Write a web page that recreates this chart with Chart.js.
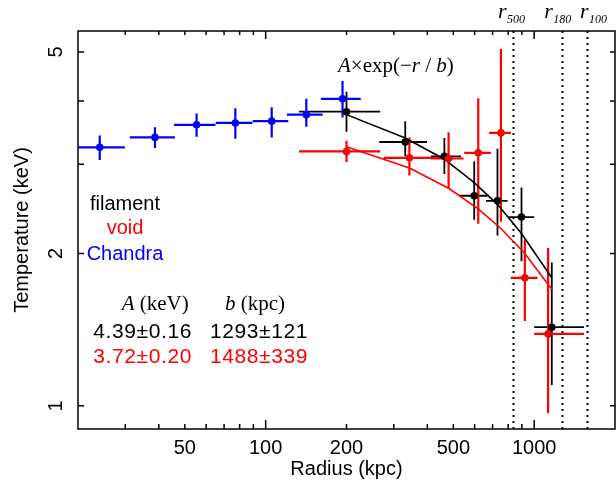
<!DOCTYPE html>
<html><head><meta charset="utf-8">
<script src="https://cdn.jsdelivr.net/npm/chart.js@4.4.1/dist/chart.umd.min.js"></script>
<style>html,body{margin:0;padding:0;background:#fff}canvas{display:block}</style>
</head><body>
<canvas id="c" width="616" height="483"></canvas>
<script>
// ---- data ----
const chandraR   = [24.1, 38.7, 55.3, 77.1, 105.3, 141.7, 193.3];
const chandraRLo = [20, 31.2, 45.6, 65.2, 89.5, 120, 160.6];
const chandraRHi = [29.9, 45.9, 65.0, 89.2, 121.4, 162.9, 226];
const chandraT   = [3.24, 3.39, 3.59, 3.62, 3.65, 3.76, 4.04];
const chandraTLo = [3.06, 3.23, 3.40, 3.37, 3.39, 3.56, 3.71];
const chandraTHi = [3.42, 3.55, 3.78, 3.87, 3.89, 4.04, 4.38];

const filR   = [200, 331, 463, 598, 730, 897, 1163];
const filRLo = [133, 265, 413, 526, 661, 803, 1000];
const filRHi = [267, 399, 534, 671, 796, 1000, 1534];
const filT   = [3.81, 3.32, 3.11, 2.60, 2.54, 2.36, 1.43];
const filTLo = [3.48, 3.11, 2.87, 2.33, 2.17, 1.93, 1.10];
const filTHi = [4.17, 3.65, 3.38, 3.04, 3.22, 2.70, 1.92];

const voidR   = [200, 343, 480, 619, 752, 923, 1127];
const voidRLo = [133, 275, 413, 549, 680, 819, 1000];
const voidRHi = [267, 443, 546, 690, 819, 1029, 1534];
const voidT   = [3.18, 3.09, 3.08, 3.16, 3.46, 1.79, 1.387];
const voidTLo = [3.03, 2.85, 2.69, 2.29, 2.31, 1.47, 0.967];
const voidTHi = [3.34, 3.39, 3.47, 4.05, 5.07, 2.13, 2.05];

const filFitR = [200, 331, 463, 598, 730, 897, 1163];
const filFitT = [3.76, 3.38, 3.07, 2.76, 2.50, 2.19, 1.79];
const voidFitR = [200, 343, 480, 619, 752, 923, 1163];
const voidFitT = [3.25, 2.95, 2.69, 2.45, 2.24, 2.00, 1.70];

const refR = [837, 1269, 1577];
const refNames = ['500', '180', '100'];

const xTickVals = [30,40,50,60,70,80,90,100,200,300,400,500,600,700,800,900,1000];
const xMajorVals = [100, 1000];
const xLabelVals = [50, 100, 200, 500, 1000];
const yTickVals = [1, 2, 3, 4, 5];
const yLabelVals = [1, 2, 5];

const legendNames = ['filament', 'void', 'Chandra'];
const paramA = ['4.39\u00B10.16', '3.72\u00B10.20'];
const paramB = ['1293\u00B1121', '1488\u00B1339'];

// ---- styles ----
const BLUE = '#0000ff', RED = '#ff0000', BLACK = '#000000';
const SANS = '"Liberation Sans", Arial, sans-serif';
const SERIF = '"Liberation Serif", "Times New Roman", serif';

const pts = (xs, ys) => xs.map((x, i) => ({x: x, y: ys[i]}));

const groups = [
  {r: filR, rlo: filRLo, rhi: filRHi, t: filT, tlo: filTLo, thi: filTHi, c: BLACK, w: 1.8},
  {r: voidR, rlo: voidRLo, rhi: voidRHi, t: voidT, tlo: voidTLo, thi: voidTHi, c: RED, w: 2.2},
  {r: chandraR, rlo: chandraRLo, rhi: chandraRHi, t: chandraT, tlo: chandraTLo, thi: chandraTHi, c: BLUE, w: 2.2}
];

function rich(ctx, parts, x, y) {
  for (const p of parts) {
    ctx.font = p.f;
    ctx.fillText(p.t, x, y);
    x += ctx.measureText(p.t).width;
  }
  return x;
}

const deco = {
  id: 'deco',
  beforeDatasetsDraw(chart) {
    const ctx = chart.ctx, xs = chart.scales.x, ys = chart.scales.y, a = chart.chartArea;
    ctx.save();
    ctx.beginPath(); ctx.rect(a.left, a.top, a.right - a.left, a.bottom - a.top); ctx.clip();
    // reference radii (dotted)
    ctx.strokeStyle = BLACK; ctx.lineWidth = 2; ctx.setLineDash([2, 4]);
    for (const r of refR) {
      const px = Math.round(xs.getPixelForValue(r)) + 0.5;
      ctx.beginPath(); ctx.moveTo(px, a.top); ctx.lineTo(px, a.bottom); ctx.stroke();
    }
    ctx.setLineDash([]);
    // error bars
    for (const g of groups) {
      ctx.strokeStyle = g.c; ctx.lineWidth = g.w;
      for (let i = 0; i < g.r.length; i++) {
        const px = xs.getPixelForValue(g.r[i]), py = ys.getPixelForValue(g.t[i]);
        ctx.beginPath();
        ctx.moveTo(xs.getPixelForValue(g.rlo[i]), py); ctx.lineTo(xs.getPixelForValue(g.rhi[i]), py);
        ctx.moveTo(px, ys.getPixelForValue(g.tlo[i])); ctx.lineTo(px, ys.getPixelForValue(g.thi[i]));
        ctx.stroke();
      }
    }
    ctx.restore();
  },
  afterDraw(chart) {
    const ctx = chart.ctx, xs = chart.scales.x, ys = chart.scales.y, a = chart.chartArea;
    ctx.save();
    // frame
    ctx.strokeStyle = BLACK; ctx.lineWidth = 1.5;
    ctx.strokeRect(a.left, a.top, a.right - a.left, a.bottom - a.top);
    // inward ticks
    ctx.beginPath();
    for (const v of xTickVals) {
      const px = xs.getPixelForValue(v);
      const maj = xMajorVals.includes(v);
      ctx.moveTo(px, a.bottom); ctx.lineTo(px, a.bottom - (maj ? 9 : 5));
      ctx.moveTo(px, a.top); ctx.lineTo(px, a.top + (maj ? 8 : 4));
    }
    for (const v of yTickVals) {
      const py = ys.getPixelForValue(v);
      ctx.moveTo(a.left, py); ctx.lineTo(a.left + 6, py);
      ctx.moveTo(a.right, py); ctx.lineTo(a.right - 5, py);
    }
    ctx.stroke();
    // y tick labels (parallel to axis)
    ctx.fillStyle = BLACK; ctx.font = '20px ' + SANS; ctx.textAlign = 'center'; ctx.textBaseline = 'alphabetic';
    for (const v of yLabelVals) {
      const py = ys.getPixelForValue(v);
      ctx.save(); ctx.translate(a.left - 16.5, py); ctx.rotate(-Math.PI / 2);
      ctx.fillText(String(v), 0, 0); ctx.restore();
    }
    // r labels above the frame
    ctx.textAlign = 'left';
    const rOff = [-15.5, -17.7, -7.3];
    refR.forEach((r, i) => {
      const px = xs.getPixelForValue(r);
      ctx.font = 'italic 22px ' + SERIF;
      const x0 = px + rOff[i];
      ctx.fillText('r', x0, 18);
      const w = ctx.measureText('r').width;
      ctx.font = 'italic 12px ' + SERIF;
      ctx.fillText(refNames[i], x0 + w + 0.5, 23.3);
    });
    // model label
    const it = 'italic 21px ' + SERIF, nm = '21px ' + SERIF;
    rich(ctx, [{t: 'A', f: it}, {t: '\u00D7', f: nm}, {t: 'exp(\u2212', f: nm}, {t: 'r', f: it},
               {t: ' / ', f: nm}, {t: 'b', f: it}, {t: ')', f: nm}], 338, 72);
    // legend text
    ctx.font = '20px ' + SANS; ctx.textAlign = 'center';
    const lc = [BLACK, RED, BLUE], lyy = [210, 234, 260];
    legendNames.forEach((n, i) => { ctx.fillStyle = lc[i]; ctx.fillText(n, 125, lyy[i]); });
    // parameter table
    ctx.textAlign = 'left'; ctx.fillStyle = BLACK;
    rich(ctx, [{t: 'A', f: it}, {t: ' (keV)', f: nm}], 121.7, 310);
    rich(ctx, [{t: 'b', f: it}, {t: ' (kpc)', f: nm}], 225, 310);
    ctx.font = '21px ' + SANS;
    ctx.letterSpacing = '0.6px';
    const pc = [BLACK, RED], py2 = [338, 363.3];
    paramA.forEach((s, i) => { ctx.fillStyle = pc[i]; ctx.fillText(s, 93.3, py2[i]); });
    paramB.forEach((s, i) => { ctx.fillStyle = pc[i]; ctx.fillText(s, 210, py2[i]); });
    ctx.letterSpacing = '0px';
    ctx.restore();
  }
};

new Chart(document.getElementById('c'), {
  type: 'scatter',
  data: {
    datasets: [
      {label: 'Chandra', data: pts(chandraR, chandraT), backgroundColor: BLUE, borderWidth: 0, pointRadius: 3.8},
      {label: 'void', data: pts(voidR, voidT), backgroundColor: RED, borderWidth: 0, pointRadius: 3.8},
      {label: 'filament', data: pts(filR, filT), backgroundColor: BLACK, borderWidth: 0, pointRadius: 3.8},
      {label: 'void fit', data: pts(voidFitR, voidFitT), showLine: true, borderColor: RED, borderWidth: 1.6, pointRadius: 0, fill: false},
      {label: 'filament fit', data: pts(filFitR, filFitT), showLine: true, borderColor: BLACK, borderWidth: 1.6, pointRadius: 0, fill: false}
    ]
  },
  options: {
    responsive: false, animation: false, devicePixelRatio: 1,
    layout: {autoPadding: false, padding: {top: 31, right: 1, left: 0, bottom: 0}},
    plugins: {legend: {display: false}, tooltip: {enabled: false}},
    scales: {
      x: {
        type: 'logarithmic', min: 20, max: 2000, position: 'bottom',
        afterBuildTicks: s => { s.ticks = xTickVals.map(v => ({value: v})); },
        afterFit: s => { s.height = 54; s.paddingLeft = 0; s.paddingRight = 0; s.paddingTop = 0; s.paddingBottom = 0; },
        grid: {display: false, drawTicks: false},
        border: {display: false},
        ticks: {autoSkip: false, maxRotation: 0, minRotation: 0, padding: 7, color: BLACK,
                font: {family: SANS, size: 20},
                callback: v => xLabelVals.includes(v) ? String(v) : ''},
        title: {display: true, text: 'Radius (kpc)', color: BLACK, font: {family: SANS, size: 20},
                padding: {top: 0, bottom: 2}}
      },
      y: {
        type: 'logarithmic', min: 0.9, max: 5.5, position: 'left',
        afterBuildTicks: s => { s.ticks = yTickVals.map(v => ({value: v})); },
        afterFit: s => { s.width = 78; s.paddingLeft = 0; s.paddingRight = 0; s.paddingTop = 0; s.paddingBottom = 0; },
        grid: {display: false, drawTicks: false},
        border: {display: false},
        ticks: {display: false},
        title: {display: true, text: 'Temperature (keV)', color: BLACK, font: {family: SANS, size: 20},
                padding: {top: 10, bottom: 0}}
      }
    }
  },
  plugins: [deco]
});
</script>
</body></html>
